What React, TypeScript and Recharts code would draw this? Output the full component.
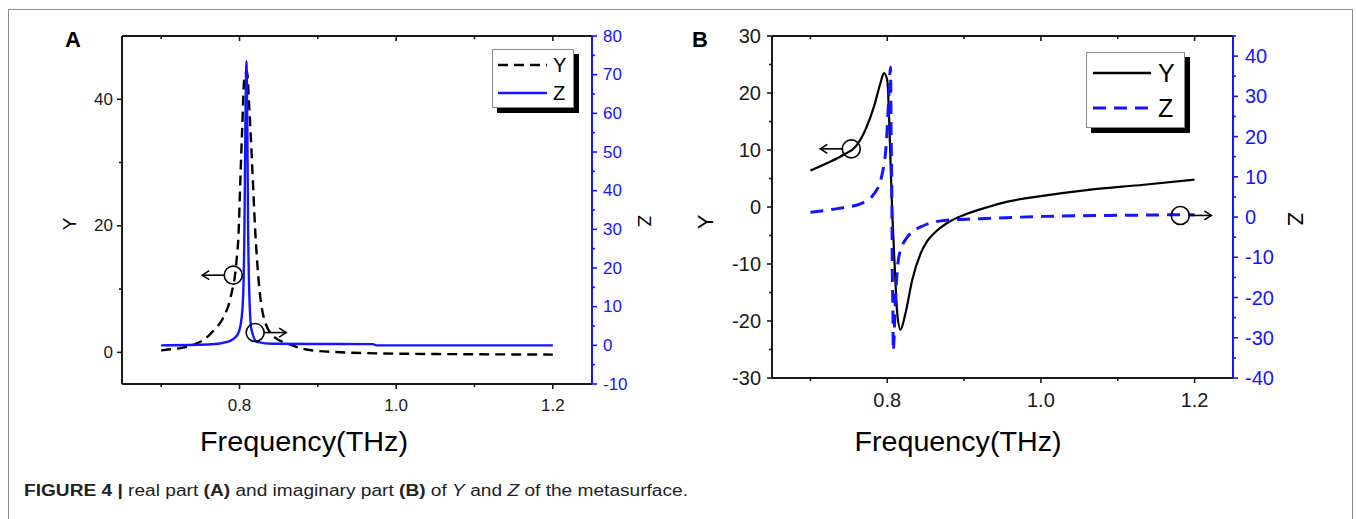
import React from 'react';
import { LineChart, Line, XAxis, YAxis, ReferenceDot, Legend } from 'recharts';

const FONT = '"Liberation Sans", Arial, Helvetica, sans-serif';
const BLUE = '#1414ff';
const INK = '#1a1a1a';

// ---- shared frequency axis ----
const freqDomain = [0.65, 1.25];
const freqTicks = [0.7, 0.8, 0.9, 1.0, 1.1, 1.2];
const freqMajor = [0.8, 1.0, 1.2];

// ---- Panel A (real part) ----
const aYFreq = [0.700, 0.705, 0.726, 0.745, 0.755, 0.768, 0.778, 0.789, 0.796, 0.799, 0.8004, 0.8034, 0.806, 0.8097, 0.8117, 0.816, 0.820, 0.8243, 0.8306, 0.843, 0.864, 0.889, 0.923, 1.0, 1.1, 1.2];
const aYVal = [0.30, 0.40, 0.70, 1.40, 2.05, 3.6, 5.2, 8.9, 14.2, 19.4, 24.7, 35.2, 43.0, 44.4, 40.5, 30.0, 19.4, 11.5, 5.7, 2.6, 1.26, 0.37, 0.05, -0.20, -0.30, -0.35];
const aZFreq = [0.700, 0.760, 0.7845, 0.797, 0.802, 0.8047, 0.8063, 0.8075, 0.8088, 0.810, 0.811, 0.8126, 0.8151, 0.8223, 0.843, 0.900, 0.970, 0.975, 1.2];
const aZVal = [0.0, 0.2, 0.9, 2.6, 6.0, 12.9, 30.2, 56.0, 73.5, 56.0, 30.2, 12.9, 4.3, 0.9, 0.4, 0.35, 0.3, 0.0, 0.0];
const aYDomain = [-5, 50];
const aYTicks = [0, 10, 20, 30, 40];
const aYMajor = [0, 20, 40];
const aZDomain = [-10, 80];
const aZTicks = [-10, -5, 0, 5, 10, 15, 20, 25, 30, 35, 40, 45, 50, 55, 60, 65, 70, 75, 80];
const aZMajor = [-10, 0, 10, 20, 30, 40, 50, 60, 70, 80];
// annotation markers (circle + arrow) for panel A
const aMarkFreq = [0.792, 0.820];
const aMarkVal = [12.2, 3.3];

// ---- Panel B (imaginary part) ----
const bYFreq = [0.700, 0.722, 0.7438, 0.7588, 0.7718, 0.7827, 0.7913, 0.7957, 0.800, 0.8022, 0.8043, 0.8065, 0.8095, 0.813, 0.8173, 0.8238, 0.8325, 0.8433, 0.852, 0.8634, 0.877, 0.891, 0.910, 0.931, 0.955, 1.0, 1.062, 1.134, 1.2];
const bYVal = [6.4, 7.7, 9.2, 10.6, 13.6, 17.6, 21.8, 23.5, 22.3, 16.5, 7.7, -1.0, -9.8, -18.6, -21.5, -18.6, -12.8, -8.2, -6.0, -4.3, -2.9, -1.9, -0.9, 0.0, 0.9, 1.9, 3.0, 3.9, 4.8];
const bZFreq = [0.700, 0.735, 0.765, 0.783, 0.7935, 0.799, 0.802, 0.8043, 0.805, 0.806, 0.8065, 0.8074, 0.8078, 0.8108, 0.815, 0.826, 0.8477, 0.877, 0.9216, 1.0056, 1.09, 1.2];
const bZVal = [1.2, 2.1, 3.3, 5.8, 10.8, 19.0, 29.9, 37.3, 21.6, 5.0, -11.6, -24.0, -33.2, -19.9, -10.0, -5.0, -2.1, -0.8, -0.4, 0.17, 0.4, 0.6];
const bYDomain = [-30, 30];
const bYTicks = [-30, -25, -20, -15, -10, -5, 0, 5, 10, 15, 20, 25, 30];
const bYMajor = [-30, -20, -10, 0, 10, 20, 30];
const bZDomain = [-40, 45];
const bZTicks = [-40, -35, -30, -25, -20, -15, -10, -5, 0, 5, 10, 15, 20, 25, 30, 35, 40, 45];
const bZMajor = [-40, -30, -20, -10, 0, 10, 20, 30, 40];
const bMarkFreq = [0.7532, 1.1814];
const bMarkVal = [10.2, 0.4];

const series = (fs: number[], vs: number[]) => fs.map((f, i) => ({ f, v: vs[i] }));
const aYData = series(aYFreq, aYVal);
const aZData = series(aZFreq, aZVal);
const bYData = series(bYFreq, bYVal);
const bZData = series(bZFreq, bZVal);

const isIn = (arr: number[], v: number) => arr.some((m) => Math.abs(m - v) < 1e-6);

type Orient = 'left' | 'right' | 'bottom' | 'top';
const makeTick = (
  orient: Orient,
  majors: number[],
  color: string,
  fontSize: number,
  gap: number,
  fmt: (v: number) => string,
) => (props: any) => {
  const { x, y, payload } = props;
  const v = payload.value;
  const major = isIn(majors, v);
  const len = major ? 5 : 3;
  const sw = 1.6;
  const txt = { fill: color, fontSize, fontFamily: FONT } as any;
  if (orient === 'left') {
    return (
      <g>
        <line x1={x - len} x2={x} y1={y} y2={y} stroke={color} strokeWidth={sw} />
        {major && (
          <text x={x - gap} y={y} textAnchor="end" dominantBaseline="central" style={txt}>
            {fmt(v)}
          </text>
        )}
      </g>
    );
  }
  if (orient === 'right') {
    return (
      <g>
        <line x1={x} x2={x + len} y1={y} y2={y} stroke={color} strokeWidth={sw} />
        {major && (
          <text x={x + gap} y={y} textAnchor="start" dominantBaseline="central" style={txt}>
            {fmt(v)}
          </text>
        )}
      </g>
    );
  }
  if (orient === 'top') {
    return <line x1={x} x2={x} y1={y} y2={y + len} stroke={color} strokeWidth={sw} />;
  }
  return (
    <g>
      <line x1={x} x2={x} y1={y} y2={y + len} stroke={color} strokeWidth={sw} />
      {major && (
        <text x={x} y={y + gap} textAnchor="middle" style={txt}>
          {fmt(v)}
        </text>
      )}
    </g>
  );
};

const Marker = (dir: 'left' | 'right') => (p: any) => {
  const { cx, cy } = p;
  const r = 9;
  const sx = dir === 'left' ? cx - r : cx + r;
  const ex = dir === 'left' ? sx - 22 : sx + 22;
  const s = dir === 'left' ? 1 : -1;
  return (
    <g>
      <circle cx={cx} cy={cy} r={r} fill="none" stroke="#000" strokeWidth={1.6} />
      <line x1={sx} y1={cy} x2={ex} y2={cy} stroke="#000" strokeWidth={1.6} />
      <polyline
        points={`${ex + s * 7},${cy - 4.5} ${ex},${cy} ${ex + s * 7},${cy + 4.5}`}
        fill="none"
        stroke="#000"
        strokeWidth={1.6}
      />
    </g>
  );
};

const fmt1 = (v: number) => v.toFixed(1);
const fmt0 = (v: number) => String(Math.round(v));

const LegendBox = ({
  w, h, fs, rows,
}: {
  w: number; h: number; fs: number;
  rows: { label: string; color: string; dash?: string; width: number; y: number; x1: number; x2: number; tx: number }[];
}) => (
  <div
    style={{
      position: 'relative', width: w, height: h, boxSizing: 'border-box',
      border: '1px solid #8a8a8a', background: '#fff', boxShadow: '5px 5px 0 #000',
    }}
  >
    <svg width={w} height={h} style={{ position: 'absolute', left: -1, top: -1 }}>
      {rows.map((r) => (
        <g key={r.label}>
          <line x1={r.x1} x2={r.x2} y1={r.y} y2={r.y} stroke={r.color} strokeWidth={r.width} strokeDasharray={r.dash} />
          <text x={r.tx} y={r.y} dominantBaseline="central" style={{ fontSize: fs, fontFamily: FONT, fill: '#000' }}>
            {r.label}
          </text>
        </g>
      ))}
    </svg>
  </div>
);

const axisBlack = { stroke: INK, strokeWidth: 2 };
const axisBlue = { stroke: BLUE, strokeWidth: 2 };

export default function App() {
  return (
    <div
      style={{
        position: 'absolute', left: 0, top: 0, width: 1356, height: 519,
        background: '#fff', fontFamily: FONT, overflow: 'hidden',
      }}
    >
      {/* outer figure frame */}
      <div
        style={{
          position: 'absolute', left: 8, top: 9, width: 1343, height: 540,
          borderLeft: '1px solid #8c8c8c', borderTop: '1px solid #8c8c8c', borderRight: '1px solid #8c8c8c',
        }}
      />

      {/* Panel A */}
      <div style={{ position: 'absolute', left: 0, top: 0 }}>
        <LineChart width={680} height={519} margin={{ top: 35, right: 28, bottom: 95, left: 62 }}>
          <XAxis
            xAxisId="top" orientation="top" type="number" dataKey="f" domain={freqDomain as any}
            ticks={freqTicks} interval={0} allowDataOverflow height={1} tickSize={0} tickMargin={0}
            axisLine={axisBlack} tickLine={false} tick={makeTick('top', freqMajor, INK, 17, 0, fmt1)}
          />
          <XAxis
            type="number" dataKey="f" domain={freqDomain as any} ticks={freqTicks} interval={0}
            allowDataOverflow height={40} tickSize={0} tickMargin={0} axisLine={axisBlack} tickLine={false}
            tick={makeTick('bottom', freqMajor, INK, 17, 27, fmt1)}
          />
          <YAxis
            yAxisId="y" type="number" domain={aYDomain as any} ticks={aYTicks} interval={0} allowDataOverflow
            width={60} tickSize={0} tickMargin={0} axisLine={axisBlack} tickLine={false}
            tick={makeTick('left', aYMajor, INK, 17, 9, fmt0)}
          />
          <YAxis
            yAxisId="z" orientation="right" type="number" domain={aZDomain as any} ticks={aZTicks} interval={0}
            allowDataOverflow width={60} tickSize={0} tickMargin={0} axisLine={axisBlue} tickLine={false}
            tick={makeTick('right', aZMajor, BLUE, 17, 11, fmt0)}
          />
          <Line
            yAxisId="y" data={aYData} dataKey="v" type="monotone" stroke="#000" strokeWidth={2.4}
            strokeDasharray="10 6" dot={false} activeDot={false} isAnimationActive={false} name="Y"
          />
          <Line
            yAxisId="z" data={aZData} dataKey="v" type="monotone" stroke={BLUE} strokeWidth={2.4}
            dot={false} activeDot={false} isAnimationActive={false} name="Z"
          />
          <ReferenceDot x={aMarkFreq[0]} y={aMarkVal[0]} yAxisId="y" r={9} shape={Marker('left')} />
          <ReferenceDot x={aMarkFreq[1]} y={aMarkVal[1]} yAxisId="z" r={9} shape={Marker('right')} />
          <Legend
            layout="vertical" align="center" verticalAlign="middle"
            wrapperStyle={{ left: 492, top: 49, width: 82, height: 59 }}
            content={() => (
              <LegendBox
                w={82} h={59} fs={20}
                rows={[
                  { label: 'Y', color: '#000', dash: '10 6', width: 2.4, y: 16, x1: 6, x2: 55, tx: 61 },
                  { label: 'Z', color: BLUE, width: 2.4, y: 44, x1: 6, x2: 55, tx: 61 },
                ]}
              />
            )}
          />
        </LineChart>
      </div>

      {/* Panel B */}
      <div style={{ position: 'absolute', left: 680, top: 0 }}>
        <LineChart width={676} height={519} margin={{ top: 35, right: 63, bottom: 101, left: 32 }}>
          <XAxis
            xAxisId="top" orientation="top" type="number" dataKey="f" domain={freqDomain as any}
            ticks={freqTicks} interval={0} allowDataOverflow height={1} tickSize={0} tickMargin={0}
            axisLine={axisBlack} tickLine={false} tick={makeTick('top', freqMajor, INK, 20, 0, fmt1)}
          />
          <XAxis
            type="number" dataKey="f" domain={freqDomain as any} ticks={freqTicks} interval={0}
            allowDataOverflow height={40} tickSize={0} tickMargin={0} axisLine={axisBlack} tickLine={false}
            tick={makeTick('bottom', freqMajor, INK, 20, 29, fmt1)}
          />
          <YAxis
            yAxisId="y" type="number" domain={bYDomain as any} ticks={bYTicks} interval={0} allowDataOverflow
            width={60} tickSize={0} tickMargin={0} axisLine={axisBlack} tickLine={false}
            tick={makeTick('left', bYMajor, INK, 20, 11, fmt0)}
          />
          <YAxis
            yAxisId="z" orientation="right" type="number" domain={bZDomain as any} ticks={bZTicks} interval={0}
            allowDataOverflow width={60} tickSize={0} tickMargin={0} axisLine={axisBlue} tickLine={false}
            tick={makeTick('right', bZMajor, BLUE, 20, 12, fmt0)}
          />
          <Line
            yAxisId="y" data={bYData} dataKey="v" type="monotone" stroke="#000" strokeWidth={2.2}
            dot={false} activeDot={false} isAnimationActive={false} name="Y"
          />
          <Line
            yAxisId="z" data={bZData} dataKey="v" type="monotone" stroke={BLUE} strokeWidth={3}
            strokeDasharray="13 8" dot={false} activeDot={false} isAnimationActive={false} name="Z"
          />
          <ReferenceDot x={bMarkFreq[0]} y={bMarkVal[0]} yAxisId="y" r={9} shape={Marker('left')} />
          <ReferenceDot x={bMarkFreq[1]} y={bMarkVal[1]} yAxisId="z" r={9} shape={Marker('right')} />
          <Legend
            layout="vertical" align="center" verticalAlign="middle"
            wrapperStyle={{ left: 406, top: 52, width: 99, height: 76 }}
            content={() => (
              <LegendBox
                w={99} h={76} fs={25}
                rows={[
                  { label: 'Y', color: '#000', width: 2.4, y: 21, x1: 7, x2: 65, tx: 72 },
                  { label: 'Z', color: BLUE, dash: '13 8', width: 3, y: 56, x1: 7, x2: 65, tx: 72 },
                ]}
              />
            )}
          />
        </LineChart>
      </div>

      {/* titles, axis labels and caption */}
      <svg
        width={1356} height={519}
        style={{ position: 'absolute', left: 0, top: 0, pointerEvents: 'none', fontFamily: FONT }}
      >
        <text x={65} y={47} style={{ fontSize: 22, fontWeight: 700 }}>A</text>
        <text x={692} y={47} style={{ fontSize: 22, fontWeight: 700 }}>B</text>
        <text x={69} y={224} transform="rotate(-90 69 224)" textAnchor="middle" dominantBaseline="central" style={{ fontSize: 19 }}>Y</text>
        <text x={644} y={221} transform="rotate(90 644 221)" textAnchor="middle" dominantBaseline="central" style={{ fontSize: 19 }}>Z</text>
        <text x={705} y={222} transform="rotate(-90 705 222)" textAnchor="middle" dominantBaseline="central" style={{ fontSize: 22 }}>Y</text>
        <text x={1295} y={219} transform="rotate(90 1295 219)" textAnchor="middle" dominantBaseline="central" style={{ fontSize: 22 }}>Z</text>
        <text x={304} y={451} textAnchor="middle" textLength={208} lengthAdjust="spacingAndGlyphs" style={{ fontSize: 28 }}>Frequency(THz)</text>
        <text x={958} y={451} textAnchor="middle" textLength={207} lengthAdjust="spacingAndGlyphs" style={{ fontSize: 28 }}>Frequency(THz)</text>
        <text x={24} y={496} textLength={664} lengthAdjust="spacingAndGlyphs" style={{ fontSize: 16, fill: '#222' }}>
          <tspan fontWeight={700}>FIGURE 4 |</tspan>
          <tspan> real part </tspan>
          <tspan fontWeight={700}>(A)</tspan>
          <tspan> and imaginary part </tspan>
          <tspan fontWeight={700}>(B)</tspan>
          <tspan> of </tspan>
          <tspan fontStyle="italic">Y</tspan>
          <tspan> and </tspan>
          <tspan fontStyle="italic">Z</tspan>
          <tspan> of the metasurface.</tspan>
        </text>
      </svg>
    </div>
  );
}
